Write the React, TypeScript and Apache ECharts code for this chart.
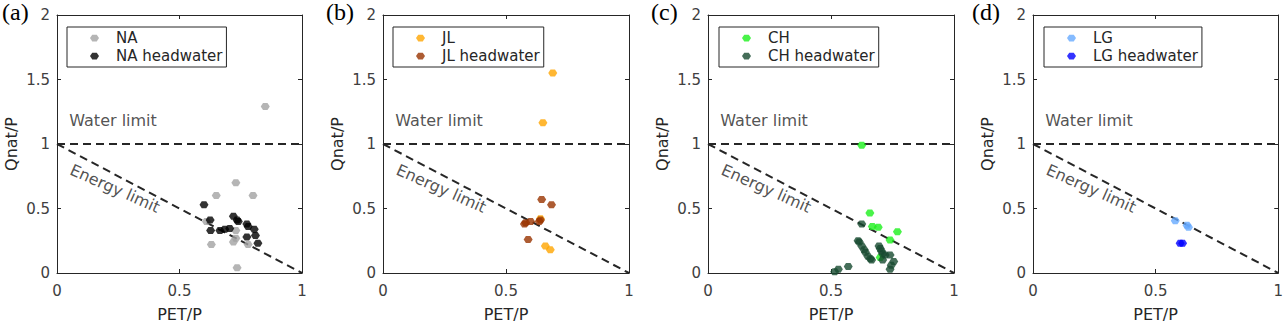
import React, { useEffect, useRef } from "react";
import * as echarts from "echarts";

// ---- data ----
const panelLabels = ["(a)", "(b)", "(c)", "(d)"];
const mainNames = ["NA", "JL", "CH", "LG"];
const headNames = ["NA headwater", "JL headwater", "CH headwater", "LG headwater"];
const mainColors = ["#a3a3a3", "#ffa500", "#1cf01c", "#66aaff"];
const headColors = ["#000000", "#993300", "#174a30", "#0000ff"];

const naMain = [
  [0.85, 1.29], [0.73, 0.7], [0.65, 0.6], [0.8, 0.6], [0.63, 0.22], [0.735, 0.04],
  [0.72, 0.24], [0.78, 0.22], [0.73, 0.33], [0.61, 0.4], [0.73, 0.27],
];
const naHead = [
  [0.6, 0.53], [0.625, 0.41], [0.627, 0.33], [0.665, 0.33], [0.685, 0.34], [0.705, 0.345],
  [0.72, 0.44], [0.735, 0.41], [0.74, 0.4], [0.775, 0.38], [0.78, 0.36], [0.775, 0.28],
  [0.805, 0.34], [0.81, 0.29], [0.82, 0.23],
];
const jlMain = [[0.69, 1.55], [0.65, 1.165], [0.64, 0.42], [0.66, 0.21], [0.68, 0.18]];
const jlHead = [
  [0.645, 0.57], [0.685, 0.53], [0.575, 0.38], [0.6, 0.4], [0.635, 0.4], [0.59, 0.26],
  [0.58, 0.39], [0.64, 0.41],
];
const chMain = [
  [0.625, 0.99], [0.658, 0.465], [0.668, 0.36], [0.692, 0.355], [0.77, 0.32], [0.74, 0.255],
  [0.7, 0.12],
];
const chHead = [
  [0.625, 0.38], [0.61, 0.25], [0.615, 0.24], [0.625, 0.21], [0.635, 0.18], [0.64, 0.16],
  [0.65, 0.13], [0.66, 0.11], [0.665, 0.1], [0.695, 0.21], [0.7, 0.19], [0.705, 0.17],
  [0.71, 0.15], [0.72, 0.14], [0.74, 0.14], [0.71, 0.1], [0.755, 0.09], [0.745, 0.06],
  [0.74, 0.03], [0.57, 0.05], [0.53, 0.03], [0.515, 0.01],
];
const lgMain = [[0.58, 0.405], [0.628, 0.37], [0.634, 0.355]];
const lgHead = [[0.6, 0.23], [0.61, 0.23]];

const mainData = [naMain, jlMain, chMain, lgMain];
const headData = [naHead, jlHead, chHead, lgHead];

const waterLimitLine = [[0, 1], [1, 1]];
const energyLimitLine = [[0, 1], [1, 0]];
const waterLabelPos = [0.05, 1.18];
const energyLabelPos = [0.237, 0.655];
const xTickInterval = 0.5;
const yTickInterval = 0.5;

// ---- layout ----
const gridLefts = [57, 383, 708, 1033];
const gridWidths = [245, 246, 246, 246];
const legendLefts = [67, 393, 719, 1044];
const labelLefts = [2, 326, 651, 972];

const FONT = "DejaVu Sans";
const AX = "#262626";
const SYM = "path://M1,0 L3,0 L4,1.5 L3,3 L1,3 L0,1.5 Z";

export default function App() {
  const ref = useRef<HTMLDivElement>(null);
  useEffect(() => {
    if (!ref.current) return;
    const chart = echarts.init(ref.current, undefined, { renderer: "svg" });
    const grids: any[] = [];
    const xAxes: any[] = [];
    const yAxes: any[] = [];
    const series: any[] = [];
    const legends: any[] = [];
    const graphics: any[] = [];

    for (let i = 0; i < 4; i++) {
      grids.push({ left: gridLefts[i], width: gridWidths[i], top: 15, height: 263 });
      const axLine = { show: true, onZero: false, lineStyle: { color: AX, width: 1 } };
      const tick = { show: true, inside: true, length: 4, lineStyle: { color: AX, width: 1 } };
      xAxes.push({
        gridIndex: i, type: "value", min: 0, max: 1, interval: xTickInterval, position: "bottom",
        name: "PET/P", nameLocation: "middle", nameGap: 33,
        nameTextStyle: { fontSize: 16, color: AX, fontFamily: FONT },
        axisLine: axLine, axisTick: tick, splitLine: { show: false },
        axisLabel: { fontSize: 15, color: "#404040", fontFamily: FONT, margin: 10 },
      });
      xAxes.push({
        gridIndex: i, type: "value", min: 0, max: 1, interval: xTickInterval, position: "top",
        axisLine: axLine, axisTick: tick, splitLine: { show: false }, axisLabel: { show: false },
      });
      yAxes.push({
        gridIndex: i, type: "value", min: 0, max: 2, interval: yTickInterval, position: "left",
        name: "Qnat/P", nameLocation: "middle", nameGap: 38,
        nameTextStyle: { fontSize: 16, color: AX, fontFamily: FONT },
        axisLine: axLine, axisTick: tick, splitLine: { show: false },
        axisLabel: { fontSize: 15, color: "#404040", fontFamily: FONT, margin: 7 },
      });
      yAxes.push({
        gridIndex: i, type: "value", min: 0, max: 2, interval: yTickInterval, position: "right",
        axisLine: axLine, axisTick: tick, splitLine: { show: false }, axisLabel: { show: false },
      });
      const xi = 2 * i;
      const yi = 2 * i;
      const dash = { type: [8, 5], width: 2, color: AX };
      series.push({
        type: "line", xAxisIndex: xi, yAxisIndex: yi, data: waterLimitLine, symbol: "none",
        lineStyle: dash, silent: true, z: 1,
      });
      series.push({
        type: "line", xAxisIndex: xi, yAxisIndex: yi, data: energyLimitLine, symbol: "none",
        lineStyle: dash, silent: true, z: 1,
      });
      series.push({
        type: "scatter", name: mainNames[i], xAxisIndex: xi, yAxisIndex: yi, data: mainData[i],
        symbol: SYM, symbolSize: [9, 7], itemStyle: { color: mainColors[i] }, z: 3,
      });
      series.push({
        type: "scatter", name: headNames[i], xAxisIndex: xi, yAxisIndex: yi, data: headData[i],
        symbol: SYM, symbolSize: [9, 7], itemStyle: { color: headColors[i] }, z: 4,
      });
      series.push({
        type: "scatter", xAxisIndex: xi, yAxisIndex: yi, symbolSize: 0, silent: true, z: 5,
        data: [
          {
            value: waterLabelPos, name: "Water limit",
            label: { show: true, position: "right", distance: 0, formatter: "Water limit",
              fontSize: 16, color: AX, fontFamily: FONT },
          },
          {
            value: energyLabelPos, name: "Energy limit",
            label: { show: true, position: "inside", rotate: -24, formatter: "Energy limit",
              fontSize: 16, color: AX, fontFamily: FONT },
          },
        ],
      });
      legends.push({
        data: [mainNames[i], headNames[i]], orient: "vertical", left: legendLefts[i], top: 27,
        selectedMode: false, icon: SYM, itemWidth: 9, itemHeight: 7, itemGap: 0,
        padding: [2, 4, 2, 23], borderColor: AX, borderWidth: 1, backgroundColor: "#fff",
        textStyle: { fontSize: 15, color: AX, fontFamily: FONT, lineHeight: 18, padding: [0, 0, 0, 12] },
      });
      graphics.push({
        type: "text", left: labelLefts[i], top: 0,
        style: { text: panelLabels[i], fontSize: 24, fontFamily: "Liberation Serif", fill: "#000" },
      });
    }

    chart.setOption({
      animation: false,
      backgroundColor: "#fff",
      grid: grids,
      xAxis: xAxes,
      yAxis: yAxes,
      legend: legends,
      series,
      graphic: graphics,
    });
    return () => chart.dispose();
  }, []);
  return (
    <div
      ref={ref}
      style={{ position: "absolute", left: 0, top: 0, width: 1286, height: 327 }}
    />
  );
}
